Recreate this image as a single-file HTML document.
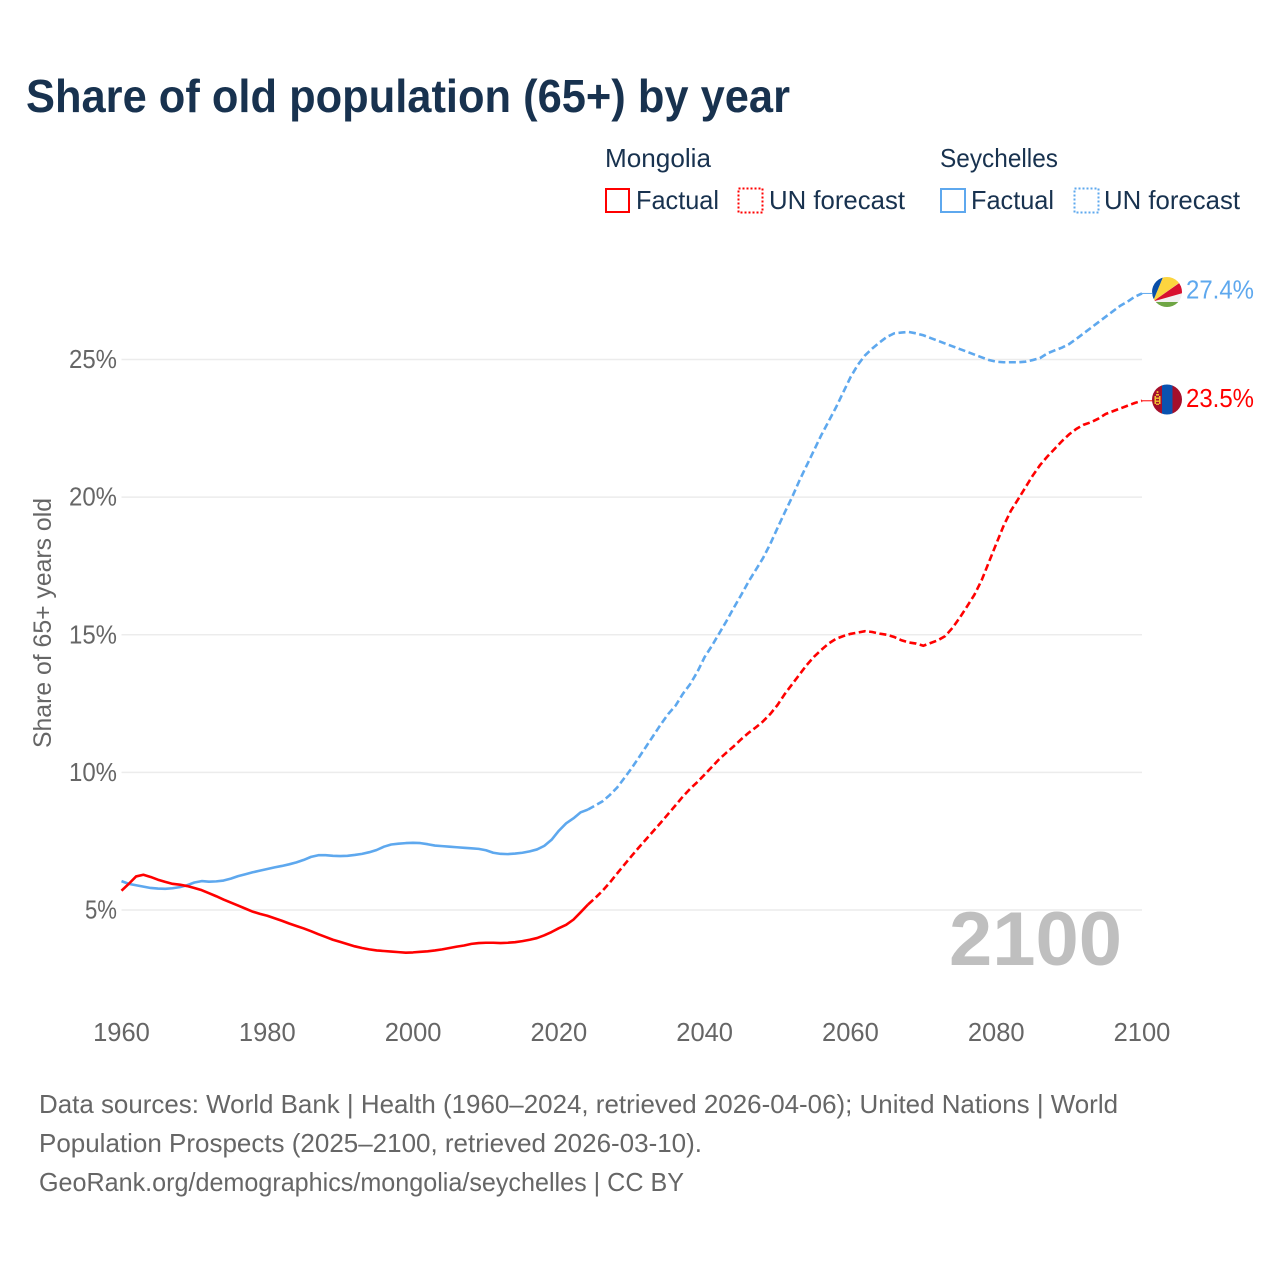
<!DOCTYPE html>
<html lang="en">
<head>
<meta charset="utf-8">
<title>Share of old population (65+) by year</title>
<style>
html,body{margin:0;padding:0;background:#fff;}
svg{display:block;}
text{font-family:"Liberation Sans",Arial,sans-serif;}
</style>
</head>
<body>
<svg id="chart" xmlns="http://www.w3.org/2000/svg" width="1280" height="1280" viewBox="0 0 1280 1280">
  <defs>
    <clipPath id="clip-sey"><circle id="clip-sey-c" cx="1167" cy="292" r="15"/></clipPath>
    <clipPath id="clip-mng"><circle id="clip-mng-c" cx="1167" cy="399.5" r="15"/></clipPath>
  </defs>
  <rect width="1280" height="1280" fill="#fff"/>

  <text x="26" y="112" font-size="46" font-weight="700" fill="#18324f" textLength="764" lengthAdjust="spacingAndGlyphs">Share of old population (65+) by year</text>

  <g font-size="26" fill="#18324f">
    <text x="605" y="167" textLength="106" lengthAdjust="spacingAndGlyphs">Mongolia</text>
    <text x="940" y="167" textLength="118" lengthAdjust="spacingAndGlyphs">Seychelles</text>

    <rect x="606" y="189" width="23" height="23" fill="none" stroke="#ff0000" stroke-width="2"/>
    <text x="636" y="209" textLength="83" lengthAdjust="spacingAndGlyphs">Factual</text>
    <rect x="738.5" y="188.5" width="24" height="24" fill="none" stroke="#ff0000" stroke-width="2" stroke-dasharray="2 2"/>
    <text x="769" y="209" textLength="136" lengthAdjust="spacingAndGlyphs">UN forecast</text>

    <rect x="941" y="189" width="24" height="23" fill="none" stroke="#5ea8ee" stroke-width="2"/>
    <text x="971" y="209" textLength="83" lengthAdjust="spacingAndGlyphs">Factual</text>
    <rect x="1074.5" y="188.5" width="24" height="24" fill="none" stroke="#5ea8ee" stroke-width="2" stroke-dasharray="2 2"/>
    <text x="1104" y="209" textLength="136" lengthAdjust="spacingAndGlyphs">UN forecast</text>
  </g>

  <g id="grid"></g>
  <g id="y-ticks"></g>
  <g id="x-ticks"></g>

  <text transform="translate(51,748) rotate(-90)" x="0" y="0" font-size="25" fill="#666" textLength="250" lengthAdjust="spacingAndGlyphs">Share of 65+ years old</text>

  <text x="949" y="965" font-size="76" font-weight="700" fill="#bfbfbf" textLength="173" lengthAdjust="spacingAndGlyphs">2100</text>

  <g id="series"></g>

  <g id="flag-seychelles" clip-path="url(#clip-sey)">
    <rect x="1152" y="277" width="30" height="30" fill="#f1f1f1"/>
    <polygon points="1153,301.5 1150,270 1166,270" fill="#0a4fa8"/>
    <polygon points="1153,301.5 1166,270 1197,270" fill="#fcd53f"/>
    <polygon points="1153,301.5 1190,275.5 1190,291" fill="#d8102f"/>
    <polygon points="1150,302 1190,302 1190,312 1150,312" fill="#6ea544"/>
  </g>
  <g id="flag-mongolia" clip-path="url(#clip-mng)">
    <rect x="1152" y="384" width="10" height="31" fill="#a50f2b"/>
    <rect x="1162" y="384" width="10.5" height="31" fill="#0a52b0"/>
    <rect x="1172.5" y="384" width="10" height="31" fill="#a50f2b"/>
    <rect x="1154.5" y="396" width="1.5" height="8" fill="#f2c230"/>
    <rect x="1159" y="396" width="1.5" height="8" fill="#f2c230"/>
    <rect x="1156" y="394" width="3" height="1.6" fill="#f2c230"/>
    <rect x="1156" y="397.5" width="3" height="1.4" fill="#f2c230"/>
    <rect x="1156" y="400.5" width="3" height="1.4" fill="#f2c230"/>
    <rect x="1156" y="403.5" width="3" height="1.4" fill="#f2c230"/>
    <circle cx="1157.5" cy="392" r="1" fill="#f2c230"/>
  </g>

  <g id="end-labels"></g>

  <g font-size="26" fill="#666">
    <text x="39" y="1113" textLength="1079" lengthAdjust="spacingAndGlyphs">Data sources: World Bank | Health (1960–2024, retrieved 2026-04-06); United Nations | World</text>
    <text x="39" y="1152" textLength="663" lengthAdjust="spacingAndGlyphs">Population Prospects (2025–2100, retrieved 2026-03-10).</text>
    <text x="39" y="1191" textLength="645" lengthAdjust="spacingAndGlyphs">GeoRank.org/demographics/mongolia/seychelles | CC BY</text>
  </g>
</svg>

<script>
const yTickValues = [5, 10, 15, 20, 25];
const yTickLabels = ["5%", "10%", "15%", "20%", "25%"];
const xTickValues = [1960, 1980, 2000, 2020, 2040, 2060, 2080, 2100];
const xTickLabels = ["1960", "1980", "2000", "2020", "2040", "2060", "2080", "2100"];

const factualStartYear = 1960;
const forecastStartYear = 2024;

const mongoliaFactual = [
  5.70, 5.95, 6.22, 6.28, 6.20, 6.10, 6.02, 5.95, 5.92, 5.87,
  5.80, 5.72, 5.61, 5.50, 5.38, 5.27, 5.16, 5.05, 4.94, 4.86,
  4.79, 4.70, 4.61, 4.51, 4.42, 4.33, 4.23, 4.12, 4.02, 3.92,
  3.84, 3.76, 3.68, 3.62, 3.57, 3.53, 3.51, 3.49, 3.47, 3.45,
  3.46, 3.48, 3.50, 3.53, 3.57, 3.62, 3.67, 3.71, 3.77, 3.80,
  3.81, 3.81, 3.80, 3.81, 3.83, 3.87, 3.92, 3.98, 4.08, 4.20,
  4.34, 4.46, 4.65, 4.92, 5.20
];
const mongoliaForecast = [
  5.20,
  5.44, 5.70, 6.00, 6.33, 6.65,
  6.97, 7.28, 7.58, 7.88, 8.18, 8.49, 8.80, 9.12, 9.40, 9.65,
  9.92, 10.20, 10.48, 10.72, 10.95, 11.20, 11.43, 11.63, 11.85, 12.12,
  12.45, 12.85, 13.20, 13.55, 13.90, 14.20, 14.45, 14.68, 14.85, 14.95,
  15.03, 15.08, 15.13, 15.10, 15.04, 15.00, 14.92, 14.80, 14.72, 14.68,
  14.60, 14.70, 14.80, 14.95, 15.25, 15.62, 16.03, 16.45, 16.98, 17.64,
  18.30, 18.95, 19.50, 19.92, 20.35, 20.78, 21.16, 21.47, 21.75, 22.03,
  22.28, 22.48, 22.63, 22.72, 22.85, 23.02, 23.12, 23.22, 23.32, 23.42,
  23.50
];
const seychellesFactual = [
  6.05, 5.95, 5.90, 5.85, 5.80, 5.78, 5.77, 5.79, 5.83, 5.90,
  6.00, 6.05, 6.03, 6.04, 6.07, 6.14, 6.23, 6.30, 6.37, 6.43,
  6.49, 6.55, 6.60, 6.66, 6.73, 6.82, 6.93, 6.99, 6.99, 6.97,
  6.96, 6.97, 7.00, 7.04, 7.10, 7.18, 7.30, 7.38, 7.41, 7.43,
  7.44, 7.43, 7.39, 7.34, 7.32, 7.30, 7.28, 7.26, 7.24, 7.22,
  7.17, 7.08, 7.04, 7.03, 7.05, 7.08, 7.13, 7.20, 7.33, 7.55,
  7.88, 8.15, 8.33, 8.55, 8.65
];
const seychellesForecast = [
  8.65,
  8.80, 8.95, 9.18, 9.45, 9.80,
  10.16, 10.55, 10.95, 11.35, 11.75, 12.12, 12.42, 12.85, 13.20, 13.65,
  14.19, 14.60, 15.05, 15.50, 15.98, 16.44, 16.92, 17.35, 17.78, 18.30,
  18.88, 19.45, 20.00, 20.60, 21.15, 21.70, 22.25, 22.75, 23.25, 23.80,
  24.35, 24.80, 25.15, 25.40, 25.62, 25.82, 25.95, 25.98, 26.00, 25.95,
  25.88, 25.78, 25.68, 25.58, 25.48, 25.38, 25.28, 25.18, 25.08, 24.98,
  24.92, 24.90, 24.90, 24.90, 24.92, 24.98, 25.05, 25.22, 25.33, 25.43,
  25.56, 25.75, 25.95, 26.15, 26.35, 26.55, 26.75, 26.95, 27.10, 27.28,
  27.40
];
const endValueLabels = ["23.5%", "27.4%"];

const NS = "http://www.w3.org/2000/svg";
function xScale(year) { return 121.5 + (year - 1960) * (1142 - 121.5) / 140; }
function yScale(v) { return 910 - (v - 5) * (910 - 359.5) / 20; }
function make(tag, parent) {
  const el = document.createElementNS(NS, tag);
  parent.appendChild(el);
  return el;
}
function linePoints(values, startYear) {
  return values.map(function (v, i) {
    return xScale(startYear + i).toFixed(2) + "," + yScale(v).toFixed(2);
  }).join(" ");
}

const gridGroup = document.getElementById("grid");
const yTickGroup = document.getElementById("y-ticks");
yTickValues.forEach(function (v, i) {
  const line = make("line", gridGroup);
  
  
  line.setAttribute("x1", xScale(1960));
  line.setAttribute("x2", xScale(2100));
  line.setAttribute("y1", yScale(v));
  line.setAttribute("y2", yScale(v));
  line.setAttribute("stroke", "#ececec");
  line.setAttribute("stroke-width", "1.4");
  const label = make("text", yTickGroup);
  
  
  label.setAttribute("x", 117);
  label.setAttribute("y", yScale(v) + 8.5);
  label.setAttribute("text-anchor", "end");
  label.setAttribute("font-size", "25.5");
  label.setAttribute("fill", "#666");
  label.setAttribute("textLength", yTickLabels[i].length * 16);
  label.setAttribute("lengthAdjust", "spacingAndGlyphs");
  label.textContent = yTickLabels[i];
});

const xTickGroup = document.getElementById("x-ticks");
xTickValues.forEach(function (v, i) {
  const label = make("text", xTickGroup);
  
  
  label.setAttribute("x", xScale(v));
  label.setAttribute("y", 1041);
  label.setAttribute("text-anchor", "middle");
  label.setAttribute("font-size", "25.5");
  label.setAttribute("fill", "#666");
  label.textContent = xTickLabels[i];
});

const seriesGroup = document.getElementById("series");
const RED = "#ff0000";
const BLUE = "#5ea8ee";

const blueFactualLine = make("polyline", seriesGroup);


blueFactualLine.setAttribute("points", linePoints(seychellesFactual, factualStartYear));
blueFactualLine.setAttribute("fill", "none");
blueFactualLine.setAttribute("stroke", BLUE);
blueFactualLine.setAttribute("stroke-width", "2.6");
blueFactualLine.setAttribute("stroke-linejoin", "round");

const blueForecastLine = make("polyline", seriesGroup);


blueForecastLine.setAttribute("points", linePoints(seychellesForecast, forecastStartYear));
blueForecastLine.setAttribute("fill", "none");
blueForecastLine.setAttribute("stroke", BLUE);
blueForecastLine.setAttribute("stroke-width", "2.6");
blueForecastLine.setAttribute("stroke-dasharray", "7 3.5");

const redFactualLine = make("polyline", seriesGroup);


redFactualLine.setAttribute("points", linePoints(mongoliaFactual, factualStartYear));
redFactualLine.setAttribute("fill", "none");
redFactualLine.setAttribute("stroke", RED);
redFactualLine.setAttribute("stroke-width", "2.6");
redFactualLine.setAttribute("stroke-linejoin", "round");

const redForecastLine = make("polyline", seriesGroup);


redForecastLine.setAttribute("points", linePoints(mongoliaForecast, forecastStartYear));
redForecastLine.setAttribute("fill", "none");
redForecastLine.setAttribute("stroke", RED);
redForecastLine.setAttribute("stroke-width", "2.6");
redForecastLine.setAttribute("stroke-dasharray", "7 3.5");

const lastRed = mongoliaForecast[mongoliaForecast.length - 1];
const lastBlue = seychellesForecast[seychellesForecast.length - 1];

const redConnector = make("line", seriesGroup);


redConnector.setAttribute("x1", xScale(2100));
redConnector.setAttribute("x2", xScale(2100) + 11);
redConnector.setAttribute("y1", yScale(lastRed));
redConnector.setAttribute("y2", yScale(lastRed));
redConnector.setAttribute("stroke", RED);
redConnector.setAttribute("stroke-width", "1");

const blueConnector = make("line", seriesGroup);


blueConnector.setAttribute("x1", xScale(2100));
blueConnector.setAttribute("x2", xScale(2100) + 11);
blueConnector.setAttribute("y1", yScale(lastBlue));
blueConnector.setAttribute("y2", yScale(lastBlue));
blueConnector.setAttribute("stroke", BLUE);
blueConnector.setAttribute("stroke-width", "1");

const endGroup = document.getElementById("end-labels");

const redEnd = make("text", endGroup);


redEnd.setAttribute("x", 1186);
redEnd.setAttribute("y", yScale(lastRed) + 6);
redEnd.setAttribute("font-size", "25.5");
redEnd.setAttribute("fill", RED);
redEnd.setAttribute("textLength", "68");
redEnd.setAttribute("lengthAdjust", "spacingAndGlyphs");
redEnd.textContent = endValueLabels[0];

const blueEnd = make("text", endGroup);


blueEnd.setAttribute("x", 1186);
blueEnd.setAttribute("y", yScale(lastBlue) + 5);
blueEnd.setAttribute("font-size", "25.5");
blueEnd.setAttribute("fill", BLUE);
blueEnd.setAttribute("textLength", "68");
blueEnd.setAttribute("lengthAdjust", "spacingAndGlyphs");
blueEnd.textContent = endValueLabels[1];
</script>
</body>
</html>
